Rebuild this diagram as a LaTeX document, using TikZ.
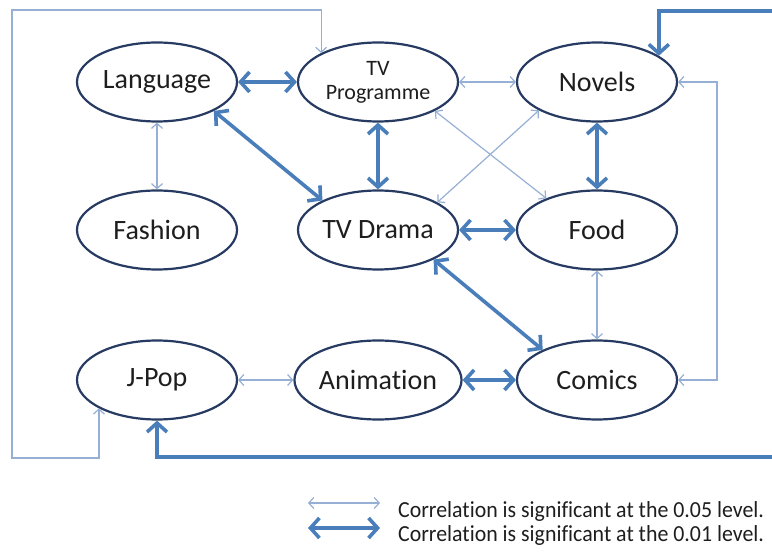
\documentclass[tikz,border=0pt]{standalone}
\usepackage{fontspec}
\setmainfont{Carlito}[RawFeature=-liga]
\usetikzlibrary{shapes.geometric,arrows.meta}

\definecolor{strongblue}{RGB}{74,126,187}
\definecolor{weakblue}{RGB}{150,175,212}
\definecolor{rimblue}{RGB}{38,58,98}
\definecolor{inktext}{RGB}{30,30,30}

\tikzset{
  topic/.style={ellipse, draw=rimblue, line width=2.2pt, fill=white,
    minimum width=160pt, minimum height=79pt, inner sep=0pt,
    text=inktext, font=\fontsize{28}{30}\selectfont},
  weak/.style={draw=weakblue, line width=1.2pt,
    {Straight Barb[length=5pt,width=11pt]}-{Straight Barb[length=5pt,width=11pt]}},
  strong/.style={draw=strongblue, line width=3.6pt,
    {Straight Barb[length=9pt,width=20pt]}-{Straight Barb[length=9pt,width=20pt]}},
  keytext/.style={anchor=base west, inner sep=0pt, text=inktext,
    font=\fontsize{23}{25}\selectfont}
}

\begin{document}
\begin{tikzpicture}[x=1pt, y=-1pt]
  \useasboundingbox (0,0) rectangle (772,556);
  \clip (0,0) rectangle (772,556);

  % topics
  \node[topic] (lang)   at (157,82)  {Language};
  \node[topic, align=center, font=\fontsize{22}{24}\selectfont] (tvp) at (378,82) {TV\\Programme};
  \node[topic] (novels) at (597,82)  {Novels};
  \node[topic] (fash)   at (157,230) {Fashion};
  \node[topic] (drama)  at (378,230) {TV Drama};
  \node[topic] (food)   at (597,230) {Food};
  \node[topic] (jpop)   at (157,380) {J-Pop};
  \node[topic] (anim)   at (378,380) {Animation};
  \node[topic] (comics) at (597,380) {Comics};

  % routing corners
  \coordinate (lt) at (12,10);
  \coordinate (lb) at (12,458);
  \coordinate (rt) at (790,11);
  \coordinate (rb) at (790,457);
  \coordinate (rr) at (717,230);

  % 0.05 level links
  \draw[weak] (tvp.east) -- (novels.west);
  \draw[weak] (lang.south) -- (fash.north);
  \draw[weak] (tvp.-27) -- (food.148);
  \draw[weak] (novels.206) -- (drama.25);
  \draw[weak] (food.south) -- (comics.north);
  \draw[weak] (jpop.east) -- (anim.west);
  \draw[weak] (novels.east) -| (rr) |- (comics.east);
  \draw[weak] (tvp.153.3) |- (lt) -- (lb) -| (jpop.206.7);

  % 0.01 level links
  \draw[strong] (lang.east) -- (tvp.west);
  \draw[strong] (lang.-27) -- (drama.152);
  \draw[strong] (tvp.south) -- (drama.north);
  \draw[strong] (novels.south) -- (food.north);
  \draw[strong] (drama.east) -- (food.west);
  \draw[strong] (drama.-28) -- (comics.151);
  \draw[strong] (anim.east) -- (comics.west);
  \draw[strong] (novels.23.5) |- (rt) -- (rb) -| (jpop.south);

  % key
  \coordinate (k1a) at (308,503);
  \coordinate (k1b) at (380,503);
  \coordinate (k2a) at (308,528);
  \coordinate (k2b) at (380,528);
  \draw[weak] (k1a) -- (k1b);
  \draw[strong] (k2a) -- (k2b);
  \node[keytext] (key1) at (398,517) {\scalebox{0.95}[1]{Correlation is significant at the 0.05 level.}};
  \node[keytext] (key2) at (398,541) {\scalebox{0.95}[1]{Correlation is significant at the 0.01 level.}};
\end{tikzpicture}
\end{document}
